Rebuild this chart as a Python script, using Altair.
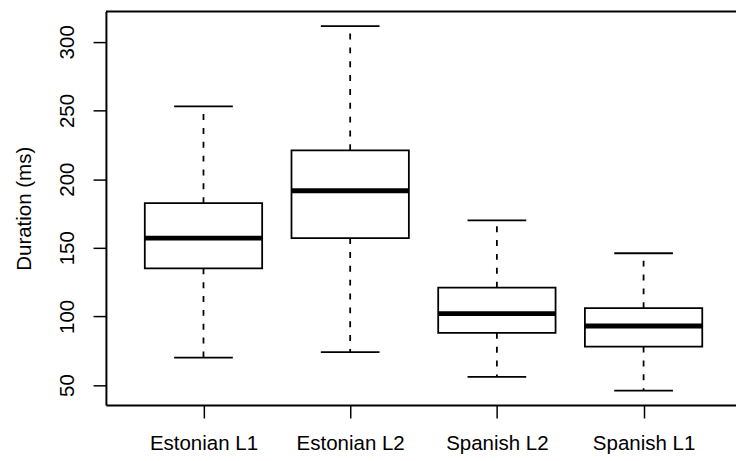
import json
import altair as alt
import pandas as pd

# ---- data (R-style boxplot statistics, ms) ----
categories = ["Estonian L1", "Estonian L2", "Spanish L2", "Spanish L1"]
lower_whisker = [70, 74, 56, 46]
q1 = [135, 157, 88, 78]
median = [157, 191.5, 102, 93]
q3 = [182.5, 221, 121, 106]
upper_whisker = [253, 311.5, 170, 146]
y_ticks = [50, 100, 150, 200, 250, 300]

# ---- derived table ----
pos = list(range(1, len(categories) + 1))
box_half = 0.4      # boxwex 0.8
cap_half = 0.2      # staplewex 0.5
df = pd.DataFrame({
    "cat": categories,
    "pos": pos,
    "lw": lower_whisker,
    "q1": q1,
    "med": median,
    "q3": q3,
    "uw": upper_whisker,
})
df["bl"] = df["pos"] - box_half
df["br"] = df["pos"] + box_half
df["cl"] = df["pos"] - cap_half
df["cr"] = df["pos"] + cap_half

# R-like axis limits (4% extension); right side of the frame is cropped
lo, hi = min(lower_whisker), max(upper_whisker)
span = hi - lo
y_domain = [lo - 0.04 * span, hi + 0.04 * span]
x_domain = [0.335, 4.63]

W, H = 637, 398
FONT = "Liberation Sans"
FS = 20.7
LW = 1.8

xs = alt.Scale(domain=x_domain, nice=False, zero=False)
ys = alt.Scale(domain=y_domain, nice=False, zero=False)

label_expr = json.dumps([""] + categories) + "[datum.value]"

x_axis = alt.Axis(values=pos, labelExpr=label_expr, title=None, grid=False,
                  domainColor="black", domainWidth=2, tickColor="black",
                  tickWidth=1.5, tickSize=13, labelPadding=16,
                  labelFont=FONT, labelFontSize=FS, labelColor="black")
y_axis = alt.Axis(values=y_ticks, title="Duration (ms)", grid=False,
                  domainColor="black", domainWidth=2, tickColor="black",
                  tickWidth=1.5, tickSize=13, labelAngle=270, labelAlign="center",
                  labelBaseline="middle", labelPadding=26,
                  labelFont=FONT, labelFontSize=FS, labelColor="black",
                  titleFont=FONT, titleFontSize=FS, titleFontWeight="normal",
                  titleColor="black", titleAngle=270, titleAlign="center",
                  titleBaseline="middle", titleX=-82, titleY=H / 2)

base = alt.Chart(df)

upper = base.mark_rule(color="black", strokeWidth=LW, strokeDash=[6, 8]).encode(
    x=alt.X("pos:Q", scale=xs, axis=x_axis),
    y=alt.Y("q3:Q", scale=ys, axis=y_axis),
    y2="uw:Q",
)
lower = base.mark_rule(color="black", strokeWidth=LW, strokeDash=[6, 8]).encode(
    x=alt.X("pos:Q", scale=xs), y=alt.Y("q1:Q", scale=ys), y2="lw:Q")
cap_top = base.mark_rule(color="black", strokeWidth=LW).encode(
    x=alt.X("cl:Q", scale=xs), x2="cr:Q", y=alt.Y("uw:Q", scale=ys))
cap_bot = base.mark_rule(color="black", strokeWidth=LW).encode(
    x=alt.X("cl:Q", scale=xs), x2="cr:Q", y=alt.Y("lw:Q", scale=ys))
boxes = base.mark_rect(fill="white", stroke="black", strokeWidth=LW).encode(
    x=alt.X("bl:Q", scale=xs), x2="br:Q", y=alt.Y("q1:Q", scale=ys), y2="q3:Q")
meds = base.mark_rule(color="black", strokeWidth=5).encode(
    x=alt.X("bl:Q", scale=xs), x2="br:Q", y=alt.Y("med:Q", scale=ys))
top_frame = alt.Chart(pd.DataFrame({"t": [y_domain[1]]})).mark_rule(
    color="black", strokeWidth=2).encode(y=alt.Y("t:Q", scale=ys))

chart = alt.layer(upper, lower, cap_top, cap_bot, boxes, meds, top_frame).properties(
    width=W, height=H,
    autosize=alt.AutoSizeParams(type="none"),
    padding={"left": 99, "top": 1, "right": 0, "bottom": 52},
).configure_view(stroke="transparent")

chart.save("out.html", embed_options={"renderer": "svg", "actions": False})
